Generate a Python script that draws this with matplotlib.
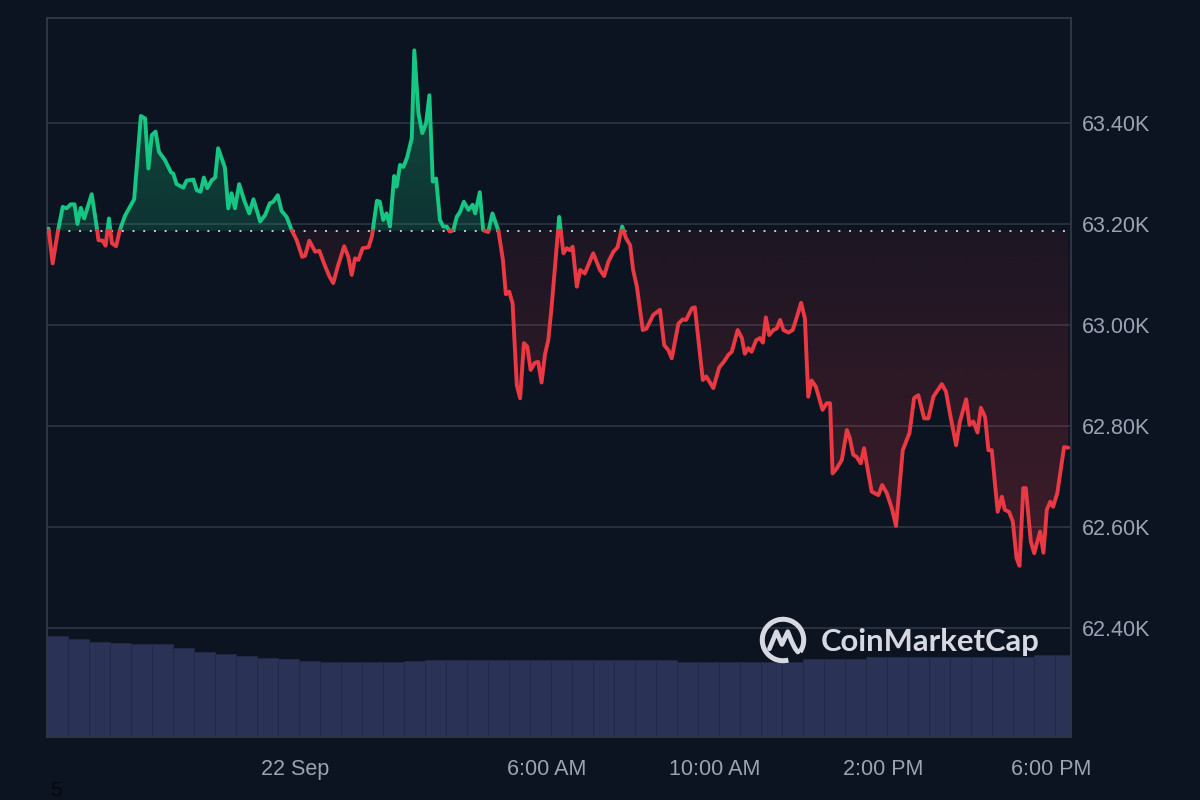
import matplotlib
matplotlib.use("Agg")
import matplotlib.pyplot as plt
import numpy as np
from matplotlib.patches import Arc, PathPatch

# price trace, hours relative to 22 Sep 00:00
hours = [
    -5.87, -5.77, -5.64, -5.53, -5.44, -5.34, -5.25, -5.18, -5.10, -5.02,
    -4.84, -4.71, -4.68, -4.58, -4.51, -4.43, -4.36, -4.26, -4.17, -4.05,
    -3.83, -3.67, -3.57, -3.49, -3.41, -3.32, -3.24, -3.10, -2.95, -2.90,
    -2.82, -2.66, -2.58, -2.42, -2.34, -2.25, -2.17, -2.09, -1.98, -1.90,
    -1.83, -1.67, -1.59, -1.51, -1.43, -1.33, -1.21, -1.09, -0.99, -0.83,
    -0.71, -0.60, -0.52, -0.41, -0.32, -0.20, -0.08, 0.04, 0.17, 0.24,
    0.34, 0.48, 0.58, 0.69, 0.82, 0.91, 1.03, 1.17, 1.27, 1.35,
    1.43, 1.51, 1.61, 1.75, 1.83, 1.95, 2.02, 2.10, 2.18, 2.26,
    2.36, 2.42, 2.50, 2.58, 2.67, 2.78, 2.84, 2.94, 3.03, 3.12,
    3.20, 3.28, 3.36, 3.45, 3.53, 3.61, 3.69, 3.77, 3.85, 3.93,
    4.02, 4.13, 4.23, 4.29, 4.40, 4.48, 4.60, 4.70, 4.84, 4.95,
    5.02, 5.10, 5.18, 5.28, 5.36, 5.45, 5.53, 5.61, 5.71, 5.79,
    5.87, 5.95, 6.03, 6.11, 6.19, 6.29, 6.39, 6.47, 6.55, 6.61,
    6.71, 6.79, 6.90, 7.10, 7.26, 7.36, 7.46, 7.58, 7.68, 7.79,
    7.88, 7.98, 8.05, 8.14, 8.28, 8.37, 8.53, 8.69, 8.79, 8.89,
    8.97, 9.13, 9.23, 9.31, 9.45, 9.52, 9.71, 9.79, 9.96, 10.10,
    10.21, 10.32, 10.40, 10.54, 10.64, 10.71, 10.79, 10.87, 10.98, 11.07,
    11.14, 11.21, 11.29, 11.39, 11.47, 11.55, 11.63, 11.75, 11.85, 11.95,
    12.05, 12.14, 12.22, 12.30, 12.40, 12.48, 12.56, 12.66, 12.74, 12.80,
    12.90, 13.02, 13.14, 13.21, 13.29, 13.37, 13.47, 13.55, 13.61, 13.73,
    13.89, 13.98, 14.09, 14.21, 14.31, 14.47, 14.63, 14.74, 14.84, 14.98,
    15.08, 15.20, 15.40, 15.50, 15.60, 15.74, 15.83, 15.98, 16.06, 16.15,
    16.25, 16.33, 16.43, 16.51, 16.59, 16.73, 16.83, 16.90, 17.00, 17.09,
    17.18, 17.25, 17.34, 17.40, 17.52, 17.60, 17.74, 17.82, 17.90, 17.98,
    18.05, 18.15, 18.31, 18.41,
]
prices = [
    63191, 63122, 63188, 63234, 63231, 63239, 63239, 63200, 63232, 63211,
    63259, 63188, 63168, 63167, 63157, 63211, 63162, 63156, 63188, 63216,
    63249, 63414, 63409, 63310, 63376, 63383, 63343, 63327, 63302, 63300,
    63279, 63272, 63286, 63288, 63267, 63264, 63292, 63271, 63287, 63292,
    63350, 63312, 63231, 63261, 63231, 63279, 63247, 63221, 63249, 63205,
    63218, 63241, 63244, 63257, 63226, 63214, 63188, 63168, 63135, 63137,
    63167, 63145, 63147, 63122, 63096, 63083, 63119, 63156, 63135, 63099,
    63132, 63129, 63152, 63154, 63175, 63246, 63244, 63208, 63221, 63195,
    63295, 63274, 63317, 63313, 63332, 63370, 63544, 63419, 63380, 63399,
    63455, 63284, 63290, 63208, 63195, 63195, 63185, 63188, 63214, 63224,
    63244, 63228, 63238, 63221, 63263, 63188, 63184, 63221, 63188, 63129,
    63061, 63066, 63043, 62881, 62855, 62964, 62957, 62911, 62925, 62927,
    62886, 62941, 62970, 63036, 63115, 63214, 63142, 63152, 63148, 63155,
    63076, 63109, 63102, 63142, 63109, 63097, 63125, 63145, 63154, 63195,
    63172, 63158, 63109, 63076, 62990, 62993, 63020, 63030, 62960, 62950,
    62934, 63003, 63011, 63010, 63033, 63035, 62891, 62898, 62875, 62916,
    62927, 62941, 62947, 62990, 62974, 62943, 62954, 62947, 62970, 62974,
    62965, 63015, 62980, 62990, 62993, 63010, 62990, 62985, 62990, 63016,
    63044, 63013, 62858, 62890, 62878, 62855, 62832, 62845, 62845, 62706,
    62716, 62733, 62792, 62776, 62743, 62739, 62726, 62756, 62726, 62670,
    62663, 62683, 62667, 62637, 62602, 62752, 62786, 62855, 62861, 62815,
    62815, 62858, 62883, 62868, 62822, 62762, 62808, 62853, 62802, 62809,
    62787, 62836, 62818, 62752, 62752, 62630, 62660, 62634, 62630, 62611,
    62538, 62523, 62677, 62677, 62571, 62548, 62591, 62549, 62634, 62650,
    62640, 62667, 62758, 62757,
]
base_price = 63187

# 24h volume (billions), one bar per half hour
volume = [
    31.4, 30.4, 29.5, 29.3, 28.9, 28.8, 27.6, 26.4, 25.8, 25.2,
    24.5, 24.4, 23.6, 23.3, 23.3, 23.3, 23.3, 23.6, 23.9, 23.9,
    23.9, 23.9, 23.9, 23.9, 23.9, 23.9, 23.9, 23.9, 23.9, 23.9,
    23.4, 23.4, 23.4, 23.4, 23.4, 23.4, 24.2, 24.2, 24.2, 25.0,
    25.0, 25.0, 25.0, 25.0, 25.0, 25.0, 25.0, 25.5, 25.5,
]
vol_start = -5.9
vol_step = 0.5

ytick_vals = [62400, 62600, 62800, 63000, 63200, 63400]
xtick_vals = [0, 6, 10, 14, 18]
xtick_labels = ["22 Sep", "6:00 AM", "10:00 AM", "2:00 PM", "6:00 PM"]

BG = "#0d1421"
GREEN = "#16c784"
RED = "#ea3943"
GRID = "#2a303c"
TEXT = "#9ba2b4"

XLIM = (-5.905, 18.476)
YLIM = (62184, 63608)


def split_at_base(x, y, base):
    xs, ys = [x[0]], [y[0]]
    for i in range(1, len(x)):
        y0, y1 = y[i - 1], y[i]
        if (y0 - base) * (y1 - base) < 0:
            t = (base - y0) / (y1 - y0)
            xs.append(x[i - 1] + t * (x[i] - x[i - 1]))
            ys.append(base)
        xs.append(x[i])
        ys.append(y1)
    return np.array(xs, dtype=float), np.array(ys, dtype=float)


def gradient_fill(ax, x, y1, y2, rgb, a_near, a_far, y_near, y_far):
    poly = ax.fill_between(x, y1, y2, facecolor="none", edgecolor="none", lw=0)
    path = poly.get_paths()[0]
    clip = PathPatch(path, transform=ax.transData, facecolor="none", edgecolor="none")
    ax.add_patch(clip)
    n = 256
    grad = np.zeros((n, 1, 4))
    grad[:, 0, :3] = matplotlib.colors.to_rgb(rgb)
    # row 0 is at the top of the extent
    lo, hi = min(y_near, y_far), max(y_near, y_far)
    vals = np.linspace(hi, lo, n)
    frac = (vals - y_near) / (y_far - y_near)
    grad[:, 0, 3] = a_near + (a_far - a_near) * np.clip(frac, 0, 1)
    im = ax.imshow(grad, extent=[XLIM[0], XLIM[1], lo, hi], aspect="auto",
                   origin="upper", zorder=2, interpolation="bilinear")
    im.set_clip_path(clip)


fig = plt.figure(figsize=(12, 8), dpi=100, facecolor=BG)
rect = [47 / 1200, 63 / 800, 1024 / 1200, 719 / 800]

# volume underneath
axv = fig.add_axes(rect, zorder=0)
axv.set_facecolor(BG)
vol_x = vol_start + vol_step * np.arange(len(volume))
axv.bar(vol_x, volume, width=vol_step, align="edge", color="#2a3256",
        edgecolor="#222945", linewidth=0.6)
axv.set_xlim(XLIM)
axv.set_ylim(0, 223.5)
axv.axis("off")

ax = fig.add_axes(rect, zorder=1)
ax.patch.set_alpha(0)

xs, ys = split_at_base(hours, prices, base_price)

gradient_fill(ax, xs, base_price, np.maximum(ys, base_price), GREEN,
              0.18, 0.32, base_price, 63550)
gradient_fill(ax, xs, base_price, np.minimum(ys, base_price), RED,
              0.07, 0.24, base_price, 62500)

yg = np.where(ys >= base_price, ys, np.nan)
yr = np.where(ys <= base_price, ys, np.nan)
ax.plot(xs, yg, color=GREEN, lw=2.8, solid_joinstyle="round", solid_capstyle="round", zorder=4)
ax.plot(xs, yr, color=RED, lw=2.8, solid_joinstyle="round", solid_capstyle="round", zorder=4)

ax.axhline(base_price, color="#c9ccd3", lw=1.4, ls=(0, (1, 4.5)), zorder=3)

ax.set_xlim(XLIM)
ax.set_ylim(YLIM)
ax.set_yticks(ytick_vals)
ax.set_yticklabels(["{:.2f}K".format(v / 1000) for v in ytick_vals])
ax.set_xticks(xtick_vals)
ax.set_xticklabels(xtick_labels)
ax.yaxis.tick_right()
ax.tick_params(axis="both", length=0, colors=TEXT, labelsize=15.5)
ax.tick_params(axis="y", pad=8)
ax.tick_params(axis="x", pad=16)
for lab in ax.get_xticklabels() + ax.get_yticklabels():
    lab.set_fontfamily("Liberation Sans")
ax.grid(axis="y", color=GRID, lw=1.4, zorder=1)
ax.set_axisbelow(True)
for sp in ax.spines.values():
    sp.set_color("#2f3542")
    sp.set_linewidth(1.4)

# watermark
lax = fig.add_axes([759 / 1200, 136 / 800, 48 / 1200, 48 / 800], zorder=5)
lax.set_xlim(-1.1, 1.1)
lax.set_ylim(-1.1, 1.1)
lax.axis("off")
mark = "#d6d9e1"
lax.add_patch(Arc((0, 0), 1.9, 1.9, theta1=-35, theta2=285, color=mark, lw=3.6))
lax.plot([-0.62, -0.3, -0.05, 0.22, 0.42, 0.55, 0.68],
         [-0.4, 0.38, -0.2, 0.38, -0.12, -0.38, -0.55],
         color=mark, lw=3.4, solid_capstyle="round", solid_joinstyle="round")
fig.text(821 / 1200, 1 - 642 / 800, "CoinMarketCap", color=mark, fontsize=22.3,
         fontweight="bold", family="Lato", va="center", ha="left", zorder=6)

fig.text(50 / 1200, 1 - 790 / 800, "5", color="#05070b", fontsize=15,
         family="Liberation Sans", va="center", ha="left")

fig.savefig("out.png", dpi=100, facecolor=BG)
